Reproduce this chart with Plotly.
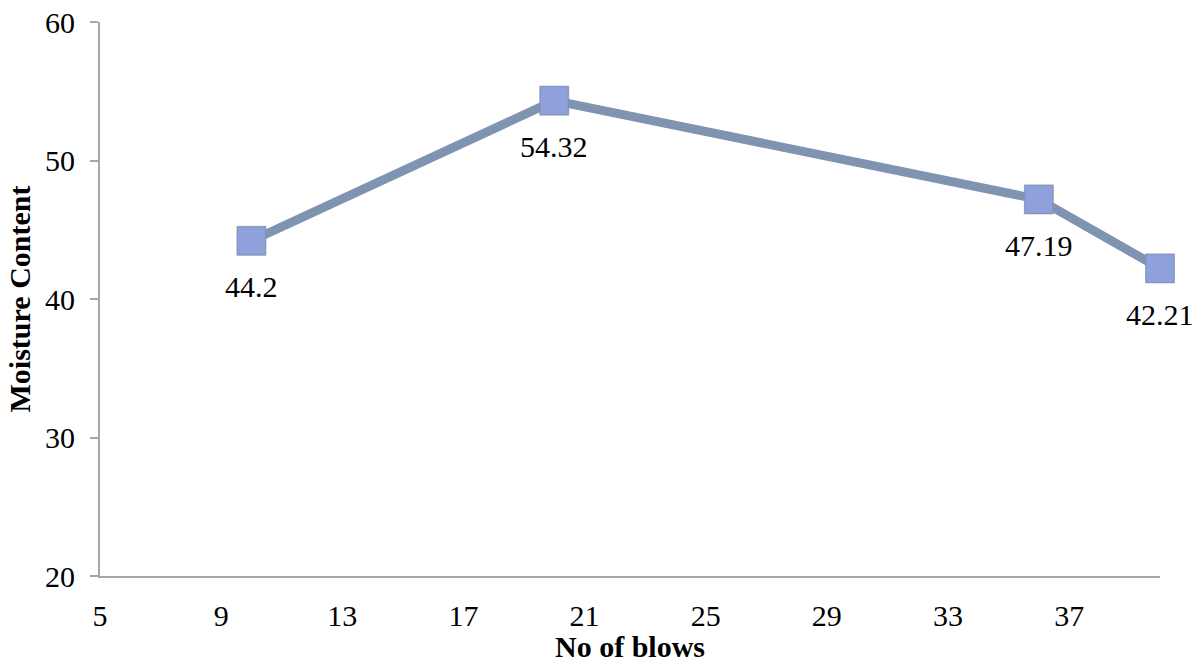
import plotly.graph_objects as go

# Blow count vs moisture content
blows = [10, 20, 36, 40]
moisture = [44.2, 54.32, 47.19, 42.21]
value_labels = ["44.2", "54.32", "47.19", "42.21"]

x_ticks = [5, 9, 13, 17, 21, 25, 29, 33, 37]
y_ticks = [20, 30, 40, 50, 60]

serif = "Liberation Serif"

fig = go.Figure()
# soft drop shadow behind each marker
fig.add_trace(go.Scatter(
    x=blows, y=moisture, mode="markers",
    marker=dict(symbol="square", size=30, color="rgba(60,60,60,0.35)",
                line=dict(width=0)),
    showlegend=False, hoverinfo="skip", cliponaxis=False,
))
fig.add_trace(go.Scatter(
    x=blows, y=moisture,
    mode="lines+markers",
    line=dict(color="#7f94b0", width=9),
    marker=dict(symbol="square", size=28, color="#8fa1da",
                line=dict(color="#7f91c8", width=1)),
    showlegend=False,
    hoverinfo="skip",
    cliponaxis=False,
))

for xv, yv, txt in zip(blows, moisture, value_labels):
    fig.add_annotation(x=xv, y=yv, text=txt, showarrow=False,
                       yshift=-46, font=dict(family=serif, size=30, color="black"))

fig.update_layout(
    width=1200, height=663,
    margin=dict(l=100, r=40, t=22, b=87),
    paper_bgcolor="white", plot_bgcolor="white",
    font=dict(family=serif, size=30, color="black"),
)
fig.update_xaxes(
    range=[5, 40], tickvals=x_ticks, showgrid=False, zeroline=False,
    showline=True, linecolor="#a6a6a6", linewidth=2, ticks="",
    ticklabelstandoff=12, automargin=False,
    tickfont=dict(family=serif, size=30),
    title=dict(text="<b>No of blows</b>", font=dict(family=serif, size=30), standoff=2),
)
fig.update_yaxes(
    range=[20, 60], tickvals=y_ticks, showgrid=False, zeroline=False,
    showline=True, linecolor="#a6a6a6", linewidth=2, ticks="outside",
    ticklen=8, tickcolor="#a6a6a6", tickwidth=2, automargin=False,
    ticklabelstandoff=9,
    tickfont=dict(family=serif, size=30),
    title=dict(text="<b>Moisture Content</b>", font=dict(family=serif, size=30), standoff=6),
)

fig.write_html("out.html")
